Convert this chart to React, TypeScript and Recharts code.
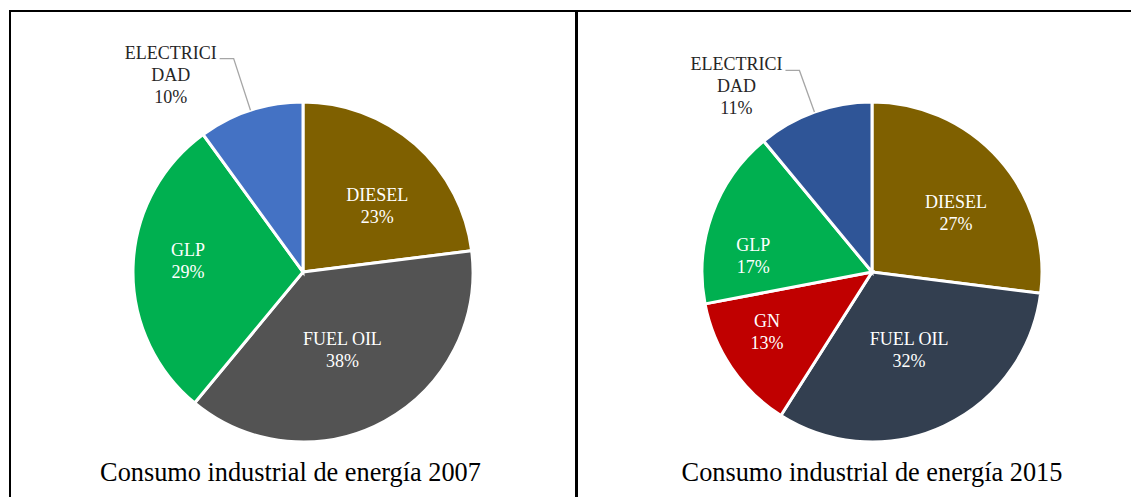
import React from 'react'
import { PieChart, Pie, Cell } from 'recharts'

// 2007
const names2007 = ['DIESEL', 'FUEL OIL', 'GLP', 'ELECTRICIDAD']
const values2007 = [23, 38, 29, 10]
const colors2007 = ['#7f6000', '#535353', '#00b050', '#4472c4']

// 2015
const names2015 = ['DIESEL', 'FUEL OIL', 'GN', 'GLP', 'ELECTRICIDAD']
const values2015 = [27, 32, 13, 17, 11]
const colors2015 = ['#7f6000', '#333f50', '#c00000', '#00b050', '#2f5597']

const titles = ['Consumo industrial de energía 2007', 'Consumo industrial de energía 2015']

const data2007 = names2007.map((name, i) => ({ name, value: values2007[i] }))
const data2015 = names2015.map((name, i) => ({ name, value: values2015[i] }))

// small label nudges (px) to mimic Excel's "best fit" placement
const nudge2007: Record<string, [number, number]> = {
  DIESEL: [9, 8],
  'FUEL OIL': [-3, 1],
  GLP: [4, -7],
}
const nudge2015: Record<string, [number, number]> = {
  DIESEL: [6, 10],
  'FUEL OIL': [1, 1],
  GN: [-15, -1],
  GLP: [-10, 23],
}

const FONT = '"Liberation Serif", "Times New Roman", serif'
const RAD = Math.PI / 180

const makeLabel = (elbow: number, nudge: Record<string, [number, number]>) => (props: any) => {
  const { cx, cy, midAngle, outerRadius } = props
  const name: string = props.name ?? props.payload?.name
  const value: number = props.value ?? props.payload?.value
  const cos = Math.cos(-midAngle * RAD)
  const sin = Math.sin(-midAngle * RAD)

  if (name === 'ELECTRICIDAD') {
    // outside label with leader line
    const ex = cx + outerRadius * cos
    const ey = cy + outerRadius * sin
    const bx = cx + outerRadius * elbow * cos
    const by = cy + outerRadius * elbow * sin
    const tx = bx - 63
    const ty = by - 6
    return (
      <g>
        <polyline
          points={`${ex},${ey} ${bx},${by} ${bx - 14},${by}`}
          fill="none"
          stroke="#a6a6a6"
          strokeWidth={1.3}
        />
        <text textAnchor="middle" fill="#262626" fontSize={18} fontFamily={FONT}>
          <tspan x={tx} y={ty + 6}>{name.slice(0, 9)}</tspan>
          <tspan x={tx} y={ty + 28}>{name.slice(9)}</tspan>
          <tspan x={tx} y={ty + 50}>{value}%</tspan>
        </text>
      </g>
    )
  }

  const r = outerRadius * (0.35 + 0.35 * Math.abs(cos))
  const [dx, dy] = nudge[name] ?? [0, 0]
  const lx = cx + r * cos + dx
  const ly = cy + r * sin + dy
  return (
    <text textAnchor="middle" fill="#ffffff" fontSize={18} fontFamily={FONT}>
      <tspan x={lx} y={ly - 5}>{name}</tspan>
      <tspan x={lx} y={ly + 17}>{value}%</tspan>
    </text>
  )
}

const titleStyle: React.CSSProperties = {
  position: 'absolute',
  top: 452,
  width: 500,
  textAlign: 'center',
  fontSize: 26.3,
  lineHeight: '26px',
  color: '#000',
  whiteSpace: 'nowrap',
}

export default function App() {
  return (
    <div style={{ position: 'relative', width: 1131, height: 489, fontFamily: FONT, background: '#fff' }}>
      <div
        style={{
          position: 'absolute',
          left: 1,
          top: 2,
          width: 1130,
          height: 487,
          borderTop: '2px solid #000',
          borderLeft: '2px solid #000',
          boxSizing: 'border-box',
        }}
      />
      <div style={{ position: 'absolute', left: 567, top: 2, width: 2.5, height: 487, background: '#000' }} />

      <div style={{ position: 'absolute', left: 0, top: 0 }}>
        <PieChart width={1131} height={489} margin={{ top: 0, right: 0, bottom: 0, left: 0 }}>
          <Pie
            data={data2007}
            dataKey="value"
            nameKey="name"
            cx={295}
            cy={264}
            outerRadius={170}
            startAngle={90}
            endAngle={-270}
            stroke="#ffffff"
            strokeWidth={3}
            label={makeLabel(1.32, nudge2007)}
            labelLine={false}
            isAnimationActive={false}
          >
            {data2007.map((d, i) => (
              <Cell key={d.name} fill={colors2007[i]} />
            ))}
          </Pie>
          <Pie
            data={data2015}
            dataKey="value"
            nameKey="name"
            cx={864}
            cy={264}
            outerRadius={170}
            startAngle={90}
            endAngle={-270}
            stroke="#ffffff"
            strokeWidth={3}
            label={makeLabel(1.26, nudge2015)}
            labelLine={false}
            isAnimationActive={false}
          >
            {data2015.map((d, i) => (
              <Cell key={d.name} fill={colors2015[i]} />
            ))}
          </Pie>
        </PieChart>
      </div>

      <div style={{ ...titleStyle, left: 282.5 - 250 }}>{titles[0]}</div>
      <div style={{ ...titleStyle, left: 864 - 250 }}>{titles[1]}</div>
    </div>
  )
}
